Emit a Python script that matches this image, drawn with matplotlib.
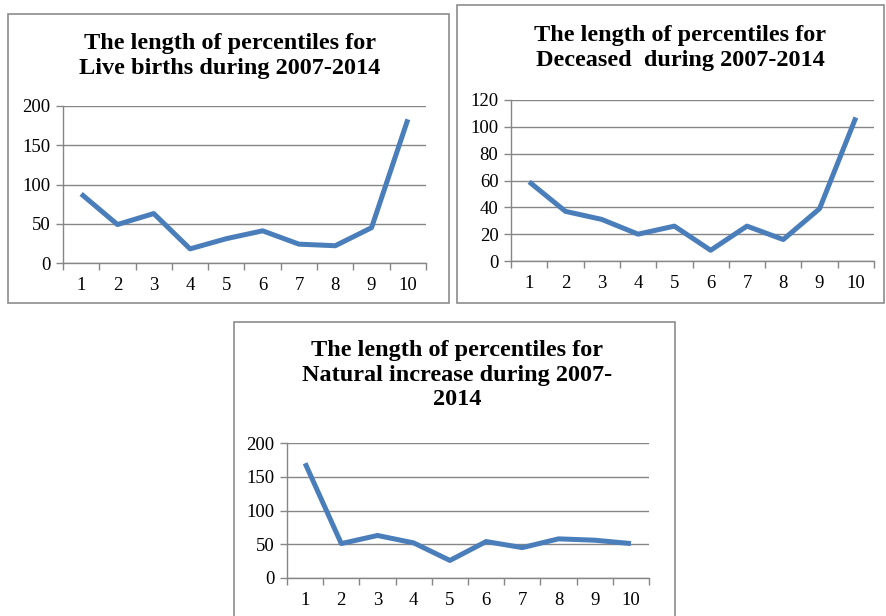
import numpy as np
import matplotlib.pyplot as plt
from matplotlib.patches import Rectangle

# percentile index on the x axis
percentiles = list(range(1, 11))

# length of each percentile band, 2007-2014
live_births = [88, 49, 63, 18, 31, 41, 24, 22, 45, 183]
deceased = [59, 37, 31, 20, 26, 8, 26, 16, 39, 107]
natural_increase = [170, 51, 63, 52, 26, 54, 45, 58, 56, 51]

titles = [
    "The length of percentiles for\nLive births during 2007-2014",
    "The length of percentiles for\nDeceased  during 2007-2014",
    "The length of percentiles for\nNatural increase during 2007-\n2014",
]

LINE_BLUE = "#4A7EBB"
GRID_GRAY = "#868686"
FRAME_GRAY = "#8C8C8C"

plt.rcParams["font.family"] = ["Liberation Serif", "DejaVu Serif"]

W, H = 887, 616
fig = plt.figure(figsize=(W / 100, H / 100), dpi=100)


def px_rect(x0, y0, x1, y1):
    # pixel box (top-left origin) -> figure fraction [left, bottom, width, height]
    return [x0 / W, 1 - y1 / H, (x1 - x0) / W, (y1 - y0) / H]


def draw_frame(x0, y0, x1, y1):
    l, b, w, h = px_rect(x0, y0, x1, y1)
    fig.add_artist(Rectangle((l, b), w, h, transform=fig.transFigure,
                             fill=False, edgecolor=FRAME_GRAY, linewidth=1.2))


def line_panel(box, values, ymax, ystep, title, title_xy):
    ax = fig.add_axes(px_rect(*box))
    ax.plot(percentiles, values, color=LINE_BLUE, linewidth=3.6,
            solid_capstyle="butt", zorder=3)
    ax.set_xlim(0.5, 10.5)
    ax.set_ylim(0, ymax)
    ax.set_yticks(np.arange(0, ymax + 1, ystep))
    ax.yaxis.grid(True, color=GRID_GRAY, linewidth=1.0)
    ax.set_axisbelow(True)

    # category boundaries get the tick marks, labels sit between them
    ax.set_xticks(np.arange(0.5, 11, 1))
    ax.set_xticklabels([])
    ax.set_xticks(percentiles, minor=True)
    ax.set_xticklabels([str(p) for p in percentiles], minor=True)
    ax.tick_params(axis="x", which="major", length=5, color=GRID_GRAY, width=1)
    ax.tick_params(axis="x", which="minor", length=0, pad=10, labelsize=13.5)
    ax.tick_params(axis="y", length=5, color=GRID_GRAY, width=1, pad=4,
                   labelsize=13.5)

    for side in ("top", "right"):
        ax.spines[side].set_visible(False)
    for side in ("left", "bottom"):
        ax.spines[side].set_color(GRID_GRAY)
        ax.spines[side].set_linewidth(1.0)

    tx, ty = title_xy
    fig.text(tx / W, 1 - ty / H, title, ha="center", va="top",
             fontsize=17.5, fontweight="bold", linespacing=1.22)
    return ax


# outer frames of the three charts
draw_frame(8, 14, 449, 303)
draw_frame(457, 5, 884, 303)
draw_frame(234, 322, 675, 630)

line_panel((63, 106, 426, 263), live_births, 200, 50, titles[0], (230, 33))
line_panel((511, 100, 874, 261), deceased, 120, 20, titles[1], (680, 25))
line_panel((287, 443, 649, 578), natural_increase, 200, 50, titles[2], (457, 340))

fig.savefig("out.png", dpi=100, facecolor="white")
